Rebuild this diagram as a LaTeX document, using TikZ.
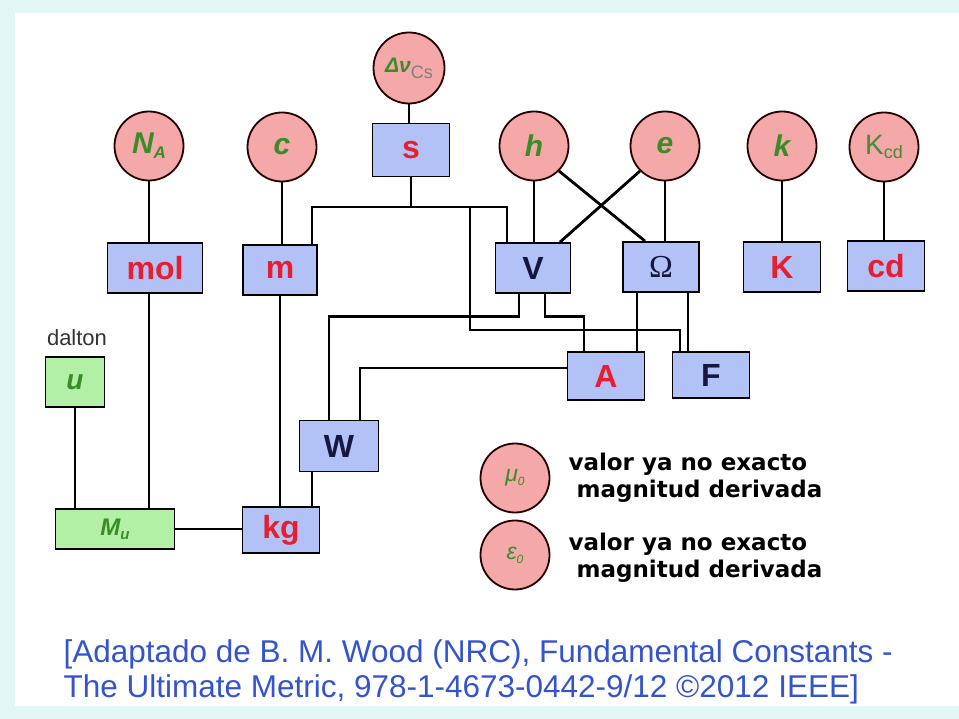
\documentclass[tikz,border=0pt]{standalone}
\usepackage{fontspec}
\setmainfont{Liberation Sans}
\newfontfamily\legendfont{DejaVu Sans}
\newfontfamily\omegafont{Liberation Serif}
\usetikzlibrary{positioning}

\definecolor{constpink}{RGB}{244,168,168}
\definecolor{unitblue}{RGB}{178,194,246}
\definecolor{daltgreen}{RGB}{178,240,166}
\definecolor{constgreen}{RGB}{58,140,40}
\definecolor{unitred}{RGB}{232,30,48}
\definecolor{unitnavy}{RGB}{20,24,64}
\definecolor{citeblue}{RGB}{52,84,206}
\definecolor{panelcyan}{RGB}{226,246,246}

\begin{document}
\begin{tikzpicture}[
  x=1pt,y=-1pt,
  const/.style={circle,draw=black!85!red,line width=1.8pt,fill=constpink,
    minimum size=69pt,inner sep=0pt,text=constgreen,
    font=\fontsize{30}{30}\selectfont\bfseries\itshape},
  unit/.style={draw,line width=1.8pt,fill=unitblue,minimum width=77pt,
    minimum height=50pt,inner sep=0pt,text=unitred,
    font=\fontsize{32}{32}\selectfont\bfseries},
  dalt/.style={unit,fill=daltgreen,text=constgreen,
    font=\fontsize{28}{28}\selectfont\bfseries\itshape},
  wire/.style={line width=2.8pt},
  legend/.style={anchor=west,align=left,
    font=\legendfont\fontsize{23}{27}\selectfont\bfseries}
]
  % page and panel
  \useasboundingbox (0,0) rectangle (959,719);
  \fill[panelcyan] (0,0) rectangle (959,719);
  \fill[white] (15,13) rectangle (959,706);

  % constants
  \node[const,minimum size=71pt] (dnu) at (409,68)
    {\fontsize{21}{21}\selectfont Δν\raisebox{-6pt}{\fontsize{18}{18}\selectfont\mdseries\upshape\color{black!50}Cs}};
  \node[const] (NA) at (149,146) {N\raisebox{-5pt}{\fontsize{17}{17}\selectfont A}};
  \node[const] (c) at (282,147) {c};
  \node[const] (h) at (534,146) {h};
  \node[const] (e) at (665,146) {e};
  \node[const] (kB) at (782,146) {k};
  \node[const,font=\fontsize{28}{28}\selectfont,text=constgreen!80!gray] (Kcd) at (884,147)
    {K\raisebox{-4pt}{\fontsize{18}{18}\selectfont cd}};

  % units
  \node[unit,minimum height=53pt] (s) at (411,150) {s};
  \node[unit,minimum width=95pt] (mol) at (155,268) {mol};
  \node[unit,minimum width=74pt] (m) at (280,270) {m};
  \node[unit,minimum width=75pt,text=unitnavy] (V) at (533,268) {V};
  \node[unit,minimum width=76pt,text=unitnavy,font=\omegafont\fontsize{32}{32}\selectfont] (Omega) at (661,267) {Ω};
  \node[unit] (K) at (782,267) {K};
  \node[unit] (cd) at (886,266) {cd};
  \node[unit,minimum height=48pt] (A) at (606,376) {A};
  \node[unit,minimum height=46pt,text=unitnavy] (F) at (711,375) {F};
  \node[unit,minimum width=79pt,minimum height=51pt,text=unitnavy] (W) at (339,446) {W};
  \node[unit,minimum height=46pt] (kg) at (281,530) {kg};
  \node[dalt,minimum width=119pt,minimum height=40pt,
    font=\fontsize{24}{24}\selectfont\bfseries\itshape] (Mu) at (115,529)
    {M\raisebox{-4pt}{\fontsize{15}{15}\selectfont u}};
  \node[dalt,minimum width=59pt] (u) at (75,382) {u};
  \node[font=\fontsize{22}{22}\selectfont,text=black!80] (dalton) at (77,338) {dalton};

  % connectors
  \draw[wire] (dnu.south) -- (dnu.south |- s.north);
  \draw[wire] (NA.south) -- (NA.south |- mol.north);
  \draw[wire] (c.south) -- (c.south |- m.north);
  \draw[wire] (h.south) -- (h.south |- V.north);
  \draw[wire] (e.south) -- (e.south |- Omega.north);
  \draw[wire] (h.south east) -- ([xshift=-16pt]Omega.north);
  \draw[wire] (e.south west) -- ([xshift=27pt]V.north);
  \draw[wire] (kB.south) -- (kB.south |- K.north);
  \draw[wire] (Kcd.south) -- (Kcd.south |- cd.north);

  \coordinate (sbus) at (411,207);
  \coordinate (fbr) at (470,207);
  \draw[wire] (s.south) -- (sbus);
  \draw[wire] (sbus) -| ([xshift=32pt]m.north);
  \draw[wire] (sbus) -| ([xshift=-26pt]V.north);
  \draw[wire] (fbr) -- ++(0,123) -| ([xshift=-31pt]F.north);

  \draw[wire] ([xshift=-14pt]V.south) -- ++(0,23) -| ([xshift=-10pt]W.north);
  \draw[wire] ([xshift=12pt]V.south) -- ++(0,23) -| ([xshift=-22pt]A.north);
  \draw[wire] ([xshift=-24pt]Omega.south) -- ([xshift=-24pt]Omega.south |- A.north);
  \draw[wire] ([xshift=27pt]Omega.south) -- ([xshift=27pt]Omega.south |- F.north);
  \draw[wire] ([yshift=8pt]A.west) -| ([xshift=21pt]W.north);

  \draw[wire] ([xshift=-27pt]W.south) -- ([xshift=-27pt]W.south |- kg.north);
  \draw[wire] (m.south) -- (m.south |- kg.north);
  \draw[wire] ([xshift=-6pt]mol.south) -- ([xshift=-6pt]mol.south |- Mu.north);
  \draw[wire] (u.south) -- (u.south |- Mu.north);
  \draw[wire] (Mu.east) -- (Mu.east -| kg.west);

  % legend
  \node[const,font=\fontsize{23}{23}\selectfont\itshape] (mu0) at (515,478)
    {μ\raisebox{-4pt}{\fontsize{12}{12}\selectfont 0}};
  \node[const,font=\fontsize{23}{23}\selectfont\itshape] (eps0) at (515,555)
    {ε\raisebox{-4pt}{\fontsize{12}{12}\selectfont 0}};
  \node[legend] (mu0txt) at (565,478) {valor ya no exacto\\\ magnitud derivada};
  \node[legend] (eps0txt) at (565,558) {valor ya no exacto\\\ magnitud derivada};

  % source
  \node[anchor=west,align=left,text=citeblue,font=\fontsize{31.5}{35}\selectfont] (cite) at (60,672)
    {[Adaptado de B. M. Wood (NRC), Fundamental Constants -\\The Ultimate Metric, 978-1-4673-0442-9/12 ©2012 IEEE]};
\end{tikzpicture}
\end{document}
